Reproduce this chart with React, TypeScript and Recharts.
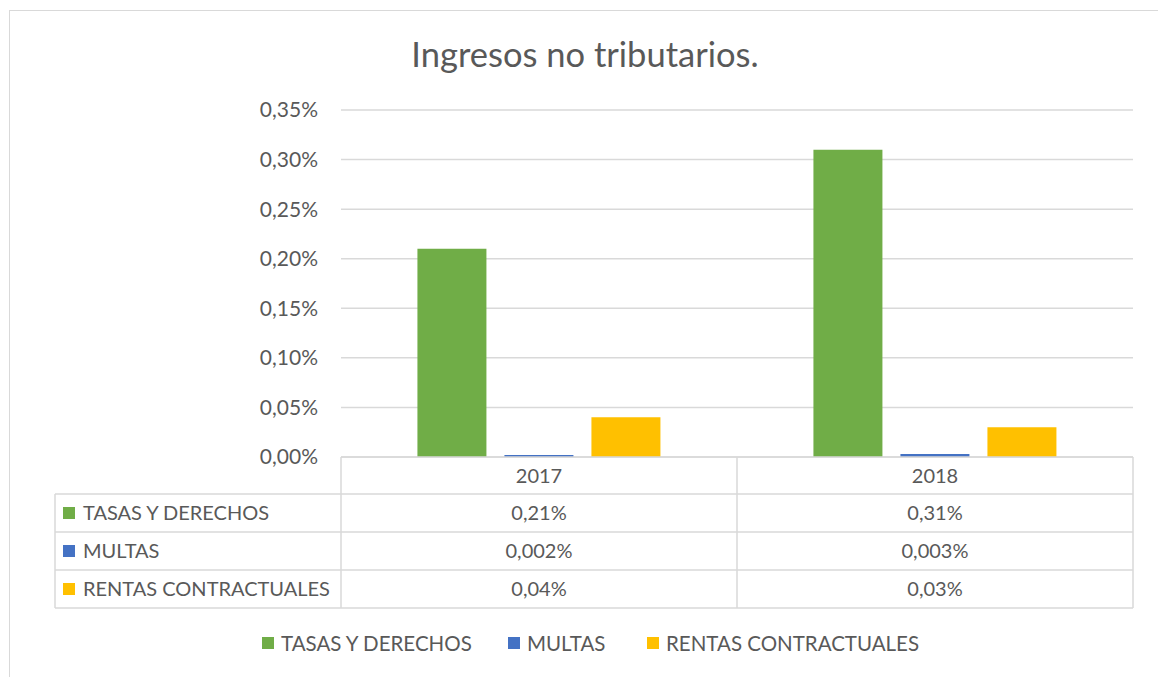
import React from "react";
import { BarChart, Bar, XAxis, YAxis, CartesianGrid } from "recharts";

const categories = ["2017", "2018"];
const tasasValues = [0.21, 0.31];
const multasValues = [0.002, 0.003];
const rentasValues = [0.04, 0.03];
const tasasLabels = ["0,21%", "0,31%"];
const multasLabels = ["0,002%", "0,003%"];
const rentasLabels = ["0,04%", "0,03%"];
const yTicks = [0, 0.05, 0.1, 0.15, 0.2, 0.25, 0.3, 0.35];
const seriesNames = ["TASAS Y DERECHOS", "MULTAS", "RENTAS CONTRACTUALES"];
const colors = ["#70AD47", "#4472C4", "#FFC000"];

const data = categories.map((c, i) => ({
  year: c,
  tasas: tasasValues[i],
  multas: multasValues[i],
  rentas: rentasValues[i],
}));
const rowLabels = [tasasLabels, multasLabels, rentasLabels];

const W = 1158;
const H = 677;
const FONT = "Lato, 'Open Sans', sans-serif";
const TXT = "#595959";
const LINE = "#D9D9D9";
const PLOT_L = 341;
const PLOT_R = 1133;
const TABLE_L = 55;
const ROW_Y = [457, 494, 532, 570, 608];
const FS = 20;
const LEGEND_X = [262, 508, 647];

const fmtPct = (v: number) => v.toFixed(2).replace(".", ",") + "%";

const TableTick = (props: any) => {
  const { x, payload, index } = props;
  const i = index ?? categories.indexOf(payload.value);
  const half = (PLOT_R - PLOT_L) / categories.length / 2;
  const centers = ROW_Y.slice(0, 4).map((y, k) => (y + ROW_Y[k + 1]) / 2);
  return (
    <g>
      {i === 0 && (
        <g>
          {ROW_Y.slice(1).map((y) => (
            <line key={"h" + y} x1={TABLE_L} x2={PLOT_R} y1={y} y2={y} stroke={LINE} strokeWidth={1.5} />
          ))}
          <line x1={PLOT_L} x2={PLOT_R} y1={ROW_Y[0]} y2={ROW_Y[0]} stroke={LINE} strokeWidth={1.5} />
          <line x1={TABLE_L} x2={TABLE_L} y1={ROW_Y[1]} y2={ROW_Y[4]} stroke={LINE} strokeWidth={1.5} />
          <line x1={x - half} x2={x - half} y1={ROW_Y[0]} y2={ROW_Y[4]} stroke={LINE} strokeWidth={1.5} />
          {seriesNames.map((n, k) => (
            <g key={n}>
              <rect x={63} y={centers[k + 1] - 6} width={12} height={12} fill={colors[k]} />
              <text x={83} y={centers[k + 1]} dy="0.35em" fill={TXT} fontSize={FS} fontFamily={FONT}>
                {n}
              </text>
            </g>
          ))}
        </g>
      )}
      <line x1={x + half} x2={x + half} y1={ROW_Y[0]} y2={ROW_Y[4]} stroke={LINE} strokeWidth={1.5} />
      <text x={x} y={centers[0]} dy="0.35em" textAnchor="middle" fill={TXT} fontSize={FS} fontFamily={FONT}>
        {payload.value}
      </text>
      {rowLabels.map((labels, k) => (
        <text key={k} x={x} y={centers[k + 1]} dy="0.35em" textAnchor="middle" fill={TXT} fontSize={FS} fontFamily={FONT}>
          {labels[i]}
        </text>
      ))}
    </g>
  );
};

export default function App() {
  return (
    <div style={{ position: "absolute", left: 0, top: 0, width: W, height: H, background: "#fff", overflow: "hidden", fontFamily: FONT }}>
      <div style={{ position: "absolute", left: 9, top: 10, width: 1170, height: 700, border: "1.5px solid #D9D9D9", boxSizing: "border-box" }} />
      <div style={{ position: "absolute", left: 0, top: 33, width: 1170, textAlign: "center", fontSize: 34.5, color: TXT, fontFamily: FONT }}>
        Ingresos no tributarios.
      </div>
      <div style={{ position: "absolute", left: 0, top: 0 }}>
        <BarChart
          width={W}
          height={H}
          data={data}
          margin={{ top: 110, right: W - PLOT_R, bottom: 190, left: 0 }}
          barCategoryGap="19.3%"
          barGap={18}
        >
          <CartesianGrid vertical={false} stroke={LINE} strokeWidth={1.5} />
          <YAxis
            width={PLOT_L}
            domain={[0, 0.35]}
            ticks={yTicks}
            tickFormatter={fmtPct}
            axisLine={false}
            tickLine={false}
            tickSize={6}
            tickMargin={17}
            tick={{ fill: TXT, fontSize: 21, fontFamily: FONT }}
          />
          <XAxis dataKey="year" height={30} axisLine={false} tickLine={false} tick={<TableTick />} interval={0} />
          <Bar dataKey="tasas" name={seriesNames[0]} fill={colors[0]} isAnimationActive={false} />
          <Bar dataKey="multas" name={seriesNames[1]} fill={colors[1]} isAnimationActive={false} />
          <Bar dataKey="rentas" name={seriesNames[2]} fill={colors[2]} isAnimationActive={false} />
        </BarChart>
      </div>
      {seriesNames.map((n, k) => (
        <div
          key={n}
          style={{ position: "absolute", left: LEGEND_X[k], top: 631, display: "flex", alignItems: "center", fontSize: 20.5, color: TXT, fontFamily: FONT, whiteSpace: "nowrap" }}
        >
          <div style={{ width: 12, height: 12, background: colors[k], marginRight: 7 }} />
          <span>{n}</span>
        </div>
      ))}
    </div>
  );
}
